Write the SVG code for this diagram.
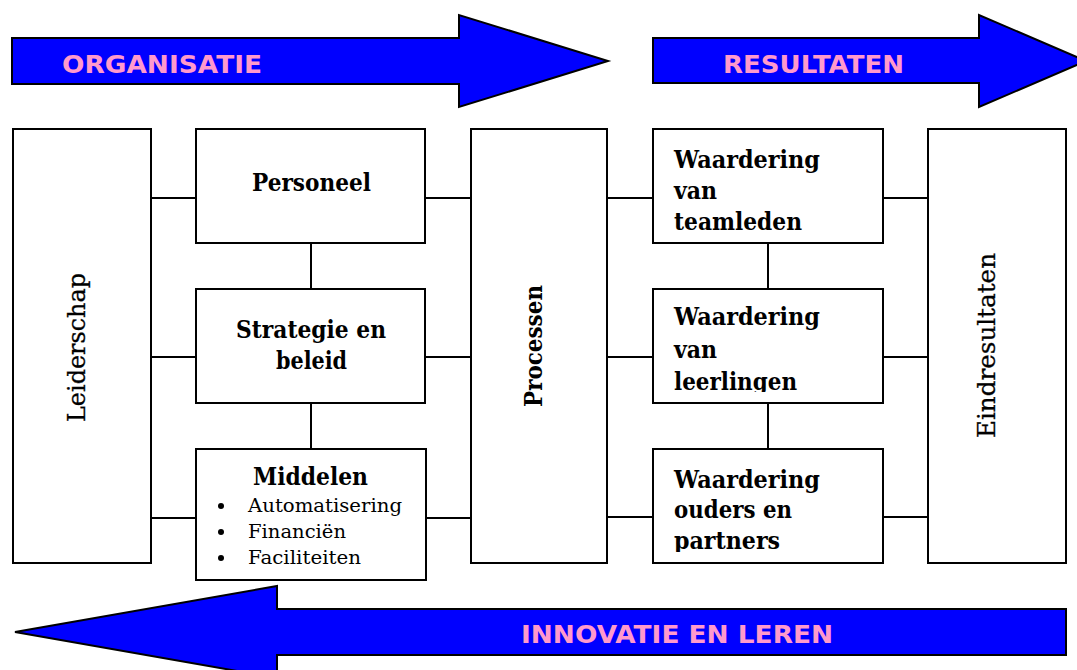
<svg xmlns="http://www.w3.org/2000/svg" width="1077" height="670" viewBox="0 0 1077 670">
<style>
.arrow{fill:#0000FF;stroke:#000;stroke-width:2;stroke-linejoin:miter}
.atext{font-family:"DejaVu Sans",Verdana,sans-serif;font-weight:bold;font-size:25px;fill:#FF99CC}
.box{fill:#fff;stroke:#000;stroke-width:2}
.conn{stroke:#000;stroke-width:2;fill:none}
.bt{font-family:"DejaVu Serif","Liberation Serif",serif;font-weight:bold;font-size:24px;fill:#000}
.rt{font-family:"DejaVu Serif","Liberation Serif",serif;font-size:25px;fill:#000;stroke:#000;stroke-width:0.3}
.st{font-family:"DejaVu Serif","Liberation Serif",serif;font-size:19px;fill:#000}
</style>
<defs>
<clipPath id="clipMid"><rect x="653" y="289" width="230" height="103"/></clipPath>
<clipPath id="clipBot"><rect x="653" y="449" width="230" height="103"/></clipPath>
</defs>
<rect width="1077" height="670" fill="#fff"/>

<g id="arrow-organisatie">
<polygon class="arrow" points="12,38 459,38 459,15 608,61 459,107 459,84 12,84"/>
<text class="atext" x="62" y="73" textLength="200" lengthAdjust="spacingAndGlyphs">ORGANISATIE</text>
</g>
<g id="arrow-resultaten">
<polygon class="arrow" points="653,38 979,38 979,15 1086,61 979,107 979,83 653,83"/>
<text class="atext" x="723" y="73" textLength="181" lengthAdjust="spacingAndGlyphs">RESULTATEN</text>
</g>
<g id="arrow-innovatie">
<polygon class="arrow" points="1066,609 277,609 277,586 15,632 277,678 277,655 1066,655"/>
<text class="atext" x="521" y="643" textLength="312" lengthAdjust="spacingAndGlyphs">INNOVATIE EN LEREN</text>
</g>

<g id="connectors">
<line class="conn" x1="151" y1="198" x2="196" y2="198"/>
<line class="conn" x1="425" y1="198" x2="471" y2="198"/>
<line class="conn" x1="151" y1="357" x2="196" y2="357"/>
<line class="conn" x1="425" y1="357" x2="471" y2="357"/>
<line class="conn" x1="151" y1="518" x2="196" y2="518"/>
<line class="conn" x1="426" y1="518" x2="471" y2="518"/>
<line class="conn" x1="311" y1="243" x2="311" y2="289"/>
<line class="conn" x1="311" y1="403" x2="311" y2="449"/>
<line class="conn" x1="607" y1="198" x2="653" y2="198"/>
<line class="conn" x1="883" y1="198" x2="928" y2="198"/>
<line class="conn" x1="607" y1="357" x2="653" y2="357"/>
<line class="conn" x1="883" y1="357" x2="928" y2="357"/>
<line class="conn" x1="607" y1="517" x2="653" y2="517"/>
<line class="conn" x1="883" y1="517" x2="928" y2="517"/>
<line class="conn" x1="768" y1="243" x2="768" y2="289"/>
<line class="conn" x1="768" y1="403" x2="768" y2="449"/>
</g>

<g id="leiderschap">
<rect class="box" x="13" y="129" width="138" height="434"/>
<text class="rt" transform="translate(85,347.5) rotate(-90)" text-anchor="middle" textLength="149" lengthAdjust="spacingAndGlyphs">Leiderschap</text>
</g>
<g id="personeel">
<rect class="box" x="196" y="129" width="229" height="114"/>
<text class="bt" x="252" y="191" textLength="119" lengthAdjust="spacingAndGlyphs">Personeel</text>
</g>
<g id="strategie">
<rect class="box" x="196" y="289" width="229" height="114"/>
<text class="bt" x="236" y="338" textLength="150" lengthAdjust="spacingAndGlyphs">Strategie en</text>
<text class="bt" x="276" y="369" textLength="71" lengthAdjust="spacingAndGlyphs">beleid</text>
</g>
<g id="middelen">
<rect class="box" x="196" y="449" width="230" height="131"/>
<text class="bt" x="253" y="485" textLength="115" lengthAdjust="spacingAndGlyphs">Middelen</text>
<circle cx="221" cy="506" r="3"/>
<circle cx="221" cy="532" r="3"/>
<circle cx="221" cy="558" r="3"/>
<text class="st" x="248" y="512" textLength="154" lengthAdjust="spacingAndGlyphs">Automatisering</text>
<text class="st" x="248" y="538" textLength="98" lengthAdjust="spacingAndGlyphs">Financiën</text>
<text class="st" x="248" y="564" textLength="113" lengthAdjust="spacingAndGlyphs">Faciliteiten</text>
</g>
<g id="processen">
<rect class="box" x="471" y="129" width="136" height="434"/>
<text class="bt" transform="translate(542,346) rotate(-90)" text-anchor="middle" textLength="122" lengthAdjust="spacingAndGlyphs">Processen</text>
</g>
<g id="waardering-teamleden">
<rect class="box" x="653" y="129" width="230" height="114"/>
<text class="bt" x="674" y="168" textLength="146" lengthAdjust="spacingAndGlyphs">Waardering</text>
<text class="bt" x="674" y="199" textLength="43" lengthAdjust="spacingAndGlyphs">van</text>
<text class="bt" x="674" y="230" textLength="128" lengthAdjust="spacingAndGlyphs">teamleden</text>
</g>
<g id="waardering-leerlingen">
<rect class="box" x="653" y="289" width="230" height="114"/>
<g clip-path="url(#clipMid)">
<text class="bt" x="674" y="325" textLength="146" lengthAdjust="spacingAndGlyphs">Waardering</text>
<text class="bt" x="674" y="358" textLength="43" lengthAdjust="spacingAndGlyphs">van</text>
<text class="bt" x="674" y="390" textLength="123" lengthAdjust="spacingAndGlyphs">leerlingen</text>
</g>
</g>
<g id="waardering-ouders">
<rect class="box" x="653" y="449" width="230" height="114"/>
<g clip-path="url(#clipBot)">
<text class="bt" x="674" y="488" textLength="146" lengthAdjust="spacingAndGlyphs">Waardering</text>
<text class="bt" x="674" y="518" textLength="118" lengthAdjust="spacingAndGlyphs">ouders en</text>
<text class="bt" x="674" y="549" textLength="106" lengthAdjust="spacingAndGlyphs">partners</text>
</g>
</g>
<g id="eindresultaten">
<rect class="box" x="928" y="129" width="138" height="434"/>
<text class="rt" transform="translate(995,345.5) rotate(-90)" text-anchor="middle" textLength="185" lengthAdjust="spacingAndGlyphs">Eindresultaten</text>
</g>
</svg>
